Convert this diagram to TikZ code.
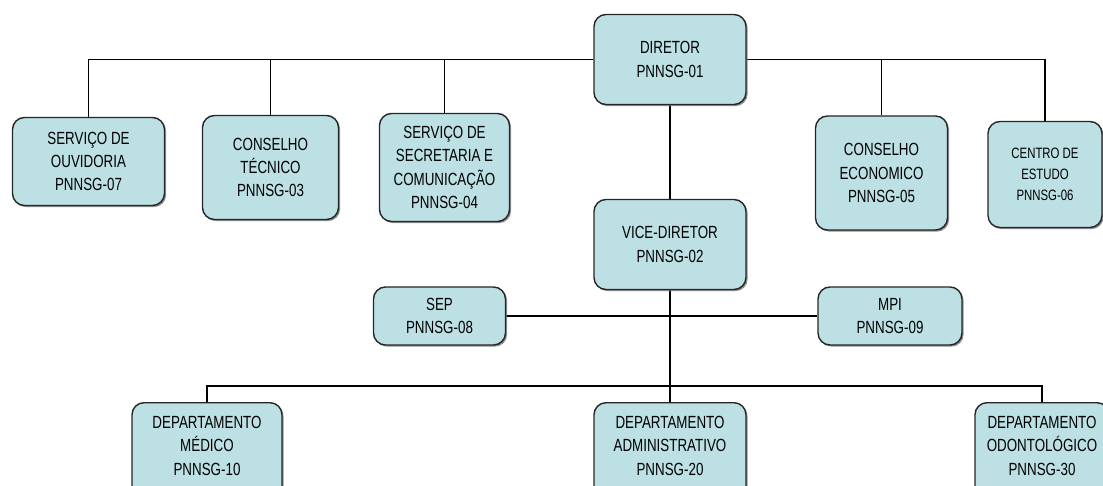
\documentclass[tikz,border=0pt]{standalone}
\usepackage{fontspec}
\setmainfont{Liberation Sans}[FakeStretch=0.76]
\usepackage{xcolor}
\usetikzlibrary{positioning, shadows, backgrounds}
\definecolor{boxfill}{RGB}{188,224,227}
\tikzset{
	unit/.style={draw=black!85, fill=boxfill, rounded corners=6pt, line width=0.7pt,
		align=center, inner sep=1pt,
		drop shadow={shadow xshift=0.8pt, shadow yshift=-0.8pt, fill=black!55, opacity=0.8}},
	link/.style={line width=0.7pt}
}
\newcommand{\pn}[1]{PNNSG-#1}

\begin{document}
\begin{tikzpicture}[
	x=0.5pt, y=-0.5pt,
	font=\fontsize{8.8}{11.7}\selectfont]
	\useasboundingbox (0,0) rectangle (1103,486);
	% direction
	\node[unit, minimum width=76pt, minimum height=45pt] (dir) at (670,59.5) {DIRETOR\\\pn{01}};
	\node[unit, minimum width=76pt, minimum height=45pt] (vice) at (670,244.5) {VICE-DIRETOR\\\pn{02}};
	% first level
	\node[unit, minimum width=76pt, minimum height=44pt] (ouv) at (88.5,161.5) {SERVIÇO DE\\OUVIDORIA\\\pn{07}};
	\node[unit, minimum width=68pt, minimum height=52pt] (tec) at (270.5,167.5) {CONSELHO\\TÉCNICO\\\pn{03}};
	\node[unit, minimum width=65pt, minimum height=54pt] (sec) at (444.5,167.5) {SERVIÇO DE\\SECRETARIA E\\COMUNICAÇÃO\\\pn{04}};
	\node[unit, minimum width=66pt, minimum height=57pt] (eco) at (881.5,173) {CONSELHO\\ECONOMICO\\\pn{05}};
	\node[unit, minimum width=57pt, minimum height=53pt, font=\fontsize{7.5}{10.5}\selectfont] (est) at (1045,174.5) {CENTRO DE\\ESTUDO\\\pn{06}};
	% staff
	\node[unit, minimum width=66pt, minimum height=29pt] (sep) at (439.5,316) {SEP\\\pn{08}};
	\node[unit, minimum width=72pt, minimum height=29pt] (mpi) at (890,316) {MPI\\\pn{09}};
	% departments
	\node[unit, anchor=north, minimum width=75pt, minimum height=52pt, text depth=9pt] (med) at (207,402) {DEPARTAMENTO\\MÉDICO\\\pn{10}};
	\node[unit, anchor=north, minimum width=76pt, minimum height=52pt, text depth=9pt] (adm) at (670,402) {DEPARTAMENTO\\ADMINISTRATIVO\\\pn{20}};
	\node[unit, anchor=north, minimum width=67pt, minimum height=52pt, text depth=9pt] (odo) at (1042,402) {DEPARTAMENTO\\ODONTOLÓGICO\\\pn{30}};
	\coordinate (bus) at (670,386);
	% connectors
	\begin{scope}[on background layer]
	\draw[link] (dir.west) -| (ouv.north);
	\draw[link] (dir.west) -| (tec.north);
	\draw[link] (dir.west) -| (sec.north);
	\draw[link] (dir.east) -| (eco.north);
	\draw[link] (dir.east) -| (est.north);
	\draw[link] (dir.south) -- (vice.north);
	\draw[link] (vice.south) -- (adm.north);
	\draw[link] (sep.east) -- (mpi.west);
	\draw[link] (med.north) |- (bus) -| (odo.north);
	\end{scope}
\end{tikzpicture}
\end{document}
